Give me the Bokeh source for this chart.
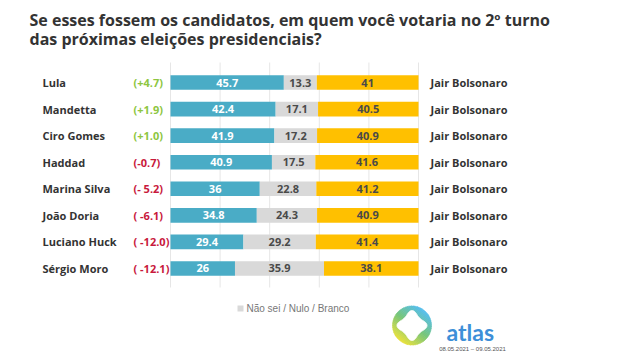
import numpy as np
from bokeh.plotting import figure
from bokeh.models import Range1d, ColumnDataSource
from bokeh.core.properties import value
from bokeh.embed import file_html
from bokeh.resources import INLINE

# ---------------- data ----------------
candidates = ["Lula", "Mandetta", "Ciro Gomes", "Haddad", "Marina Silva",
              "João Doria", "Luciano Huck", "Sérgio Moro"]
changes = ["(+4.7)", "(+1.9)", "(+1.0)", "(-0.7)", "(- 5.2)",
           "( -6.1)", "( -12.0)", "( -12.1)"]
candidate_votes = [45.7, 42.4, 41.9, 40.9, 36, 34.8, 29.4, 26]
undecided_votes = [13.3, 17.1, 17.2, 17.5, 22.8, 24.3, 29.2, 35.9]
bolsonaro_votes = [41, 40.5, 40.9, 41.6, 41.2, 40.9, 41.4, 38.1]
opponent = "Jair Bolsonaro"
grid_ticks = [0, 20, 40, 60, 80, 100]
title_lines = ["Se esses fossem os candidatos, em quem você votaria no 2º turno",
               "das próximas eleições presidenciais?"]
legend_text = "Não sei / Nulo / Branco"
brand = "atlas"
date_text = "08.05.2021 – 09.05.2021"

# ---------------- layout helpers (pixel -> data) ----------------
W, H = 643, 356
X0, PX_PCT = 170.0, 2.48
Y0, ROW_H = 82.0, 26.57


def X(px):
    return (px - X0) / PX_PCT


def Y(py):
    return (py - Y0) / ROW_H


BLUE = "#4aacc6"
GRAY = "#d9d9d9"
YELLOW = "#ffc000"
DARK = "#333333"
GREEN = "#8dc63f"
RED = "#c8193c"

p = figure(width=W, height=H, output_backend="svg", toolbar_location=None,
           x_range=Range1d(X(0), X(W)), y_range=Range1d(Y(H), Y(0)),
           min_border=0, x_axis_location=None, y_axis_location=None)
p.outline_line_color = None
p.xgrid.visible = False
p.ygrid.visible = False
p.background_fill_color = "white"
p.border_fill_color = "white"

idx = np.arange(len(candidates))
a = np.array(candidate_votes, dtype=float)
u = np.array(undecided_votes, dtype=float)
b = np.array(bolsonaro_votes, dtype=float)

# grid lines
p.segment(x0=grid_ticks, x1=grid_ticks,
          y0=[Y(62)] * len(grid_ticks), y1=[Y(287)] * len(grid_ticks),
          line_color="#e6e6e6", line_width=1)

src = ColumnDataSource(dict(
    y=idx, a0=np.zeros_like(a), a1=a, u1=a + u, b1=a + u + b,
    ac=a / 2, uc=a + u / 2, bc=a + u + b / 2,
    alab=[f"{v:g}" for v in a], ulab=[f"{v:g}" for v in u], blab=[f"{v:g}" for v in b],
    name=candidates, chg=changes,
    chgc=[GREEN if "+" in c else RED for c in changes],
    opp=[opponent] * len(candidates),
))

BH = 0.55
p.hbar(y="y", left="a0", right="a1", height=BH, source=src, fill_color=BLUE, line_color=None)
p.hbar(y="y", left="a1", right="u1", height=BH, source=src, fill_color=GRAY, line_color=None)
p.hbar(y="y", left="u1", right="b1", height=BH, source=src, fill_color=YELLOW, line_color=None)

font = value("Open Sans")
p.text(x="ac", y="y", text="alab", source=src, text_font=font, text_font_style="bold",
       text_font_size="11px", text_color="white", text_align="center", text_baseline="middle")
p.text(x="uc", y="y", text="ulab", source=src, text_font=font, text_font_style="bold",
       text_font_size="11px", text_color="#4a4a4a", text_align="center", text_baseline="middle")
p.text(x="bc", y="y", text="blab", source=src, text_font=font, text_font_style="bold",
       text_font_size="11px", text_color="#4a4a4a", text_align="center", text_baseline="middle")

p.text(x=X(42), y="y", text="name", source=src, text_font=font, text_font_style="bold",
       text_font_size="11px", text_color=DARK, text_align="left", text_baseline="middle")
p.text(x=X(133), y="y", text="chg", source=src, text_font=font, text_font_style="bold",
       text_font_size="11px", text_color="chgc", text_align="left", text_baseline="middle")
p.text(x=X(430), y="y", text="opp", source=src, text_font=font, text_font_style="bold",
       text_font_size="11px", text_color=DARK, text_align="left", text_baseline="middle")

# title
p.text(x=[X(29), X(29)], y=[Y(19), Y(38)], text=title_lines, text_font=font,
       text_font_style="bold", text_font_size="16px", text_color=DARK,
       text_align="left", text_baseline="alphabetic")

# legend
p.rect(x=[X(240)], y=[Y(308)], width=6, height=6, width_units="screen",
       height_units="screen", fill_color=GRAY, line_color=None)
p.text(x=[X(246)], y=[Y(308)], text=[legend_text], text_font=value("Liberation Sans"),
       text_font_size="10px", text_color="#777777", text_align="left", text_baseline="middle")

# logo: gradient circle with white four-point star
cx, cy, r = 411.5, 325.0, 19.5
c_lo = np.array([236, 226, 60])
c_mid = np.array([120, 198, 120])
c_hi = np.array([85, 190, 240])
n_strips = 26
edges = np.linspace(-r, r, n_strips + 1)
d = np.array([0.6, -0.8])                    # gradient direction (towards top-right)
nrm = np.array([0.8, 0.6])
xs, ys, cols = [], [], []
for i in range(n_strips):
    u0, u1 = edges[i], min(edges[i + 1] + 0.3, r)
    us = np.linspace(u0, u1, 8)
    vs = np.sqrt(np.maximum(r ** 2 - us ** 2, 0))
    uu = np.concatenate([us, us[::-1]])
    vv = np.concatenate([vs, -vs[::-1]])
    px = cx + uu * d[0] + vv * nrm[0]
    py = cy + uu * d[1] + vv * nrm[1]
    xs.append(list(X(px)))
    ys.append(list(Y(py)))
    t = (edges[i] + edges[i + 1]) / 2 / r
    if t < 0:
        c = c_mid + (c_lo - c_mid) * (-t)
    else:
        c = c_mid + (c_hi - c_mid) * t
    cols.append("#%02x%02x%02x" % tuple(int(v) for v in c))
p.patches(xs=xs, ys=ys, fill_color=cols, line_color=cols, line_width=0.5)

tt = np.linspace(0, 2 * np.pi, 360)
rr = 10.8 + 4.2 * np.abs(np.cos(2 * tt)) ** 3
p.patch(x=X(cx + rr * np.cos(tt)), y=Y(cy + rr * np.sin(tt)),
        fill_color="white", line_color="white", line_width=1)

p.text(x=[X(446)], y=[Y(331)], text=[brand], text_font=value("Lato"), text_font_style="bold",
       text_font_size="23px", text_color="#3d8fd8", text_align="left", text_baseline="alphabetic")
p.text(x=[X(472)], y=[Y(348)], text=[date_text], text_font=value("Liberation Sans"),
       text_font_size="6px", text_color="#555555", text_align="center", text_baseline="middle")

open("out.html", "w").write(file_html(p, INLINE))
